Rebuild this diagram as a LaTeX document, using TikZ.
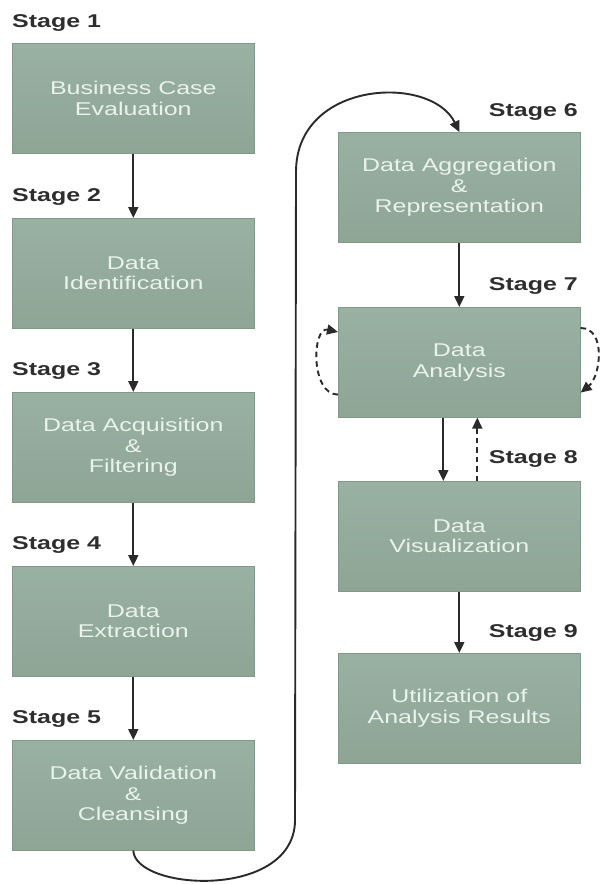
\documentclass[tikz,border=0pt]{standalone}
\usepackage{fontspec}
\setmainfont{Liberation Sans}[FakeStretch=1.35]
\usetikzlibrary{arrows.meta,calc}
\definecolor{boxtop}{HTML}{99B1A2}
\definecolor{boxbot}{HTML}{8EA596}
\definecolor{boxedge}{HTML}{82998A}
\definecolor{boxtext}{HTML}{EAF2EC}
\definecolor{labelcol}{HTML}{2E2E2E}
\definecolor{arrowcol}{HTML}{2A2A2A}
\begin{document}
\begin{tikzpicture}[x=1pt,y=-1pt,
  stagebox/.style={rectangle, anchor=north west, minimum width=242pt, minimum height=110pt,
    inner sep=0pt, top color=boxtop, bottom color=boxbot, draw=boxedge, line width=0.6pt,
    text=boxtext, align=center, font=\fontsize{18.5}{20.5}\selectfont},
  stagelabel/.style={inner sep=0pt, text=labelcol, font=\bfseries\fontsize{18.5}{20}\selectfont},
  flow/.style={draw=arrowcol, line width=1.9pt, -{Triangle[length=11pt,width=10pt]}},
  loopflow/.style={flow, dash pattern=on 5.5pt off 4pt}]
\useasboundingbox (0,0) rectangle (600,884);
\fill[white] (0,0) rectangle (600,884);

% left column
\node[stagebox] (b1) at (12,43)  {Business Case\\Evaluation};
\node[stagebox] (b2) at (12,218) {Data\\Identification};
\node[stagebox] (b3) at (12,392) {Data Acquisition\\\&\\Filtering};
\node[stagebox] (b4) at (12,566) {Data\\Extraction};
\node[stagebox] (b5) at (12,740) {Data Validation\\\&\\Cleansing};

\node[stagelabel, anchor=base west] (s1) at (12,27)  {Stage 1};
\node[stagelabel, anchor=base west] (s2) at (12,201) {Stage 2};
\node[stagelabel, anchor=base west] (s3) at (12,375) {Stage 3};
\node[stagelabel, anchor=base west] (s4) at (12,549) {Stage 4};
\node[stagelabel, anchor=base west] (s5) at (12,723) {Stage 5};

% right column
\node[stagebox] (b6) at (338,132) {Data Aggregation\\\&\\Representation};
\node[stagebox] (b7) at (338,307) {Data\\Analysis};
\node[stagebox] (b8) at (338,481) {Data\\Visualization};
\node[stagebox] (b9) at (338,653) {Utilization of\\Analysis Results};

\node[stagelabel, anchor=base east] (s6) at (578,116) {Stage 6};
\node[stagelabel, anchor=base east] (s7) at (578,290) {Stage 7};
\node[stagelabel, anchor=base east] (s8) at (578,463) {Stage 8};
\node[stagelabel, anchor=base east] (s9) at (578,637) {Stage 9};

% connectors
\draw[flow] (b1.south) -- (b2.north);
\draw[flow] (b2.south) -- (b3.north);
\draw[flow] (b3.south) -- (b4.north);
\draw[flow] (b4.south) -- (b5.north);

\coordinate (ret1) at (295,822);
\coordinate (ret2) at (296,172);
\draw[flow] (b5.south) .. controls +(2,40) and +(-3,78) .. (ret1) -- (ret2)
  .. controls +(0,-92) and +(-28,-58) .. (b6.north);

\draw[flow] (b6.south) -- (b7.north);
\draw[flow] ([xshift=-16pt]b7.south) -- ([xshift=-16pt]b8.north);
\draw[loopflow] ([xshift=18pt]b8.north) -- ([xshift=18pt]b7.south);
\draw[flow] (b8.south) -- (b9.north);

% self loops on Data Analysis
\coordinate (l1) at ([yshift=23pt]b7.south west);
\coordinate (l2) at ([yshift=-25pt]b7.north west);
\draw[loopflow] (l1) .. controls +(-28,0) and +(-26,-6) .. (l2);
\coordinate (r1) at ([yshift=-21pt]b7.north east);
\coordinate (r2) at ([yshift=25pt]b7.south east);
\draw[loopflow] (r1) .. controls +(26,0) and +(20,-16) .. (r2);
\end{tikzpicture}
\end{document}
